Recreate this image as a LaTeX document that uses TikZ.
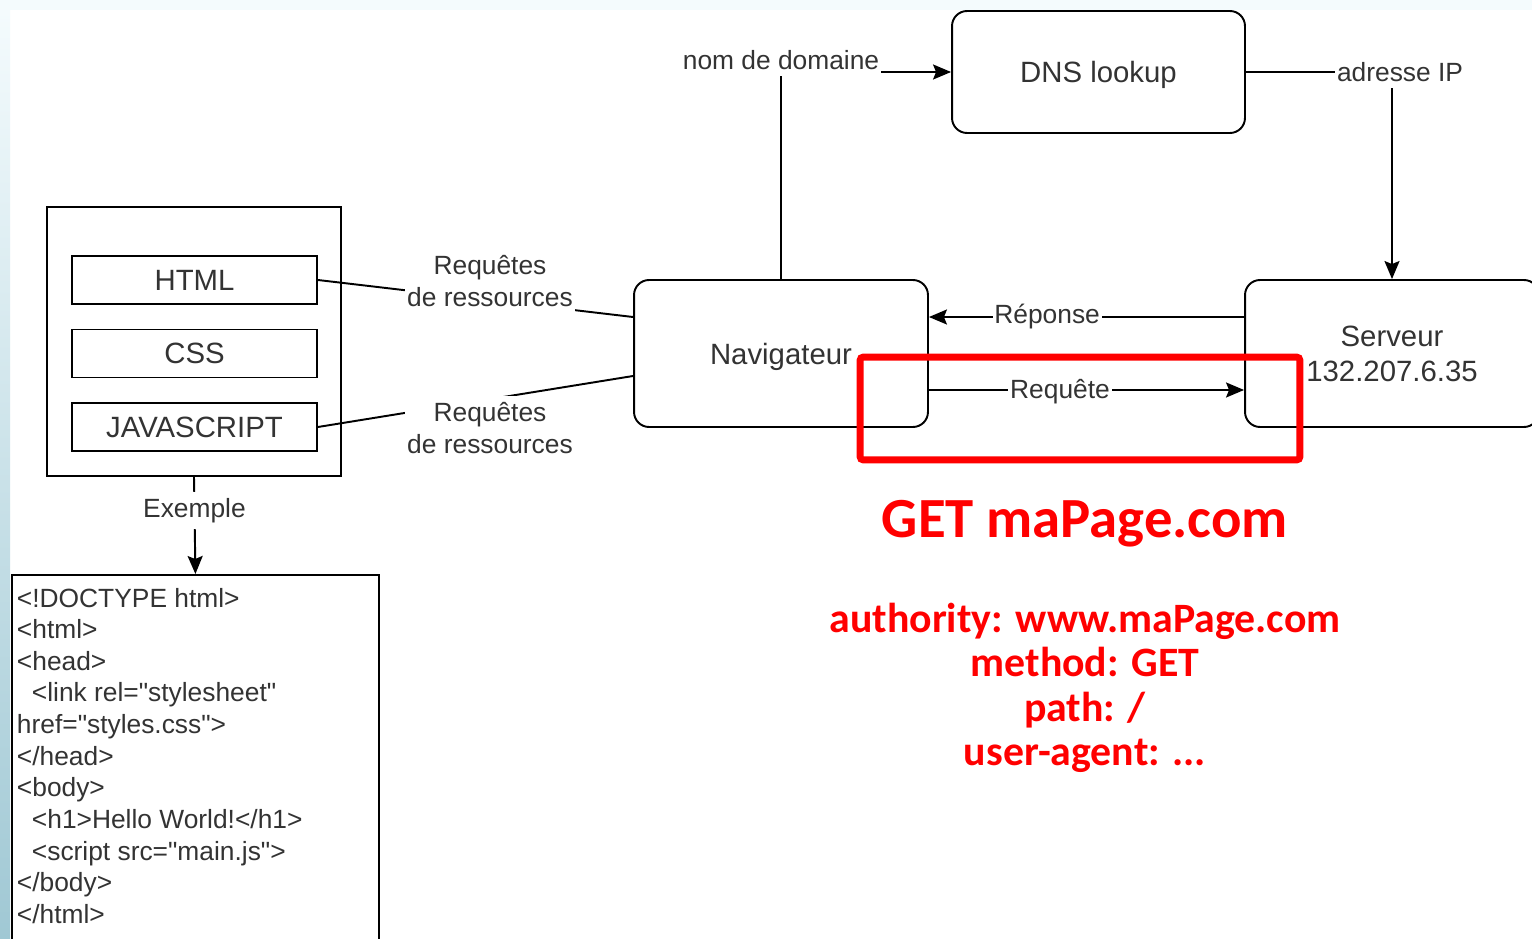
\documentclass[tikz,border=0pt]{standalone}
\usepackage{fontspec}
\setmainfont{Liberation Sans}
\newfontfamily\codefont{Liberation Sans}
\newfontfamily\redfont{Carlito}
\usepackage{tikz}
\usetikzlibrary{arrows.meta, shadings}
\definecolor{txtgray}{HTML}{333333}
\definecolor{edgeblue}{RGB}{160,200,212}
\definecolor{paleblue}{RGB}{244,251,253}
\tikzstyle{blk}=[draw, line width=1.1pt, text=txtgray, font=\fontsize{16.7}{20}\selectfont, align=center]
\tikzstyle{rbox}=[blk, rounded corners=0.3cm]
\tikzstyle{lbl}=[fill=white, inner xsep=1pt, inner ysep=0.12cm, text=txtgray, font=\fontsize{15}{18}\selectfont, align=center]
\tikzstyle{codebox}=[draw, anchor=north west, inner xsep=0.1cm, inner ysep=0.26cm, text=txtgray, font=\codefont\fontsize{15}{18}\selectfont]
\tikzstyle{redtxt}=[text=red, inner sep=0pt, anchor=base, font=\redfont\bfseries\fontsize{23.8}{26}\selectfont]
\tikzset{>={Stealth[length=0.36cm, width=0.3cm, inset=0.06cm]}}

\begin{document}
\begin{tikzpicture}[x=0.02cm, y=-0.02cm, line width=1.1pt]
\useasboundingbox (0,0) rectangle (1532,939);
\clip (0,0) rectangle (1532,939);
% backdrop
\fill[paleblue] (0,0) rectangle (1532,939);
\fill[white] (10,10) rectangle (1532,939);
\shade[top color=paleblue, bottom color=edgeblue] (0,10) rectangle (10,939);
%
% page and its resources
\node[blk, minimum width=5.88cm, minimum height=5.38cm] (page) at (194,341.5) {};
\node[blk, minimum width=4.9cm, minimum height=0.96cm] (html) at (194.5,280) {HTML};
\node[blk, minimum width=4.9cm, minimum height=0.96cm] (css) at (194.5,353.5) {CSS};
\node[blk, minimum width=4.9cm, minimum height=0.96cm] (js) at (194.5,427) {JAVASCRIPT};
\node[codebox] (code) at (11,574) {\parbox[t][8cm][t]{7.14cm}{\raggedright
<!DOCTYPE html>\\
<html>\\
<head>\\
\hspace*{0.3cm}<link rel="stylesheet"\\
href="styles.css">\\
</head>\\
<body>\\
\hspace*{0.3cm}<h1>Hello World!</h1>\\
\hspace*{0.3cm}<script src="main.js">\\
</body>\\
</html>}};
%
% browser, dns, server
\node[rbox, minimum width=5.88cm, minimum height=2.94cm, text depth=0pt] (nav) at (781,353.5) {Navigateur};
\node[rbox, minimum width=5.86cm, minimum height=2.44cm, text depth=0pt] (dns) at (1098.5,72) {DNS lookup};
\node[rbox, minimum width=5.88cm, minimum height=2.94cm] (srv) at (1392,353.5) {Serveur\\132.207.6.35};
%
\draw[->] (nav.north) |- node[lbl, pos=0.5, yshift=0.24cm] {nom de domaine} (dns.west);
\draw[->] (dns.east) -| node[lbl, pos=0.5, xshift=0.16cm] {adresse IP} (srv.north);
\draw[->] ([yshift=0.73cm]srv.west) -- node[lbl, pos=0.625] {Réponse} ([yshift=0.73cm]nav.east);
\draw[->] ([yshift=-0.73cm]nav.east) -- node[lbl, pos=0.416, yshift=-0.04cm] {Requête} ([yshift=-0.73cm]srv.west);
\draw (html.east) -- node[lbl, pos=0.546, yshift=0.38cm] {Requêtes\\de ressources} ([yshift=0.73cm]nav.west);
\draw (js.east) -- node[lbl, pos=0.546, yshift=-0.576cm] {Requêtes\\de ressources} ([yshift=-0.45cm]nav.west);
\draw[->] (page.south) -- node[lbl, pos=0.347] {Exemple} (code.north);
%
% request in red
\node[draw=red, line width=0.14cm, rounded corners=2pt, minimum width=8.8cm, minimum height=2.06cm] (hl) at (1080,408.5) {};
\node[redtxt, font=\redfont\bfseries\fontsize{32.3}{36}\selectfont] (get) at (1085,537) {GET maPage.com};
\node[redtxt] (hdr0) at (1085,632) {authority: www.maPage.com};
\node[redtxt] (hdr1) at (1085,676.5) {method: GET};
\node[redtxt] (hdr2) at (1085,721) {path: /};
\node[redtxt] (hdr3) at (1085,765.5) {user-agent: ...};
\end{tikzpicture}
\end{document}
